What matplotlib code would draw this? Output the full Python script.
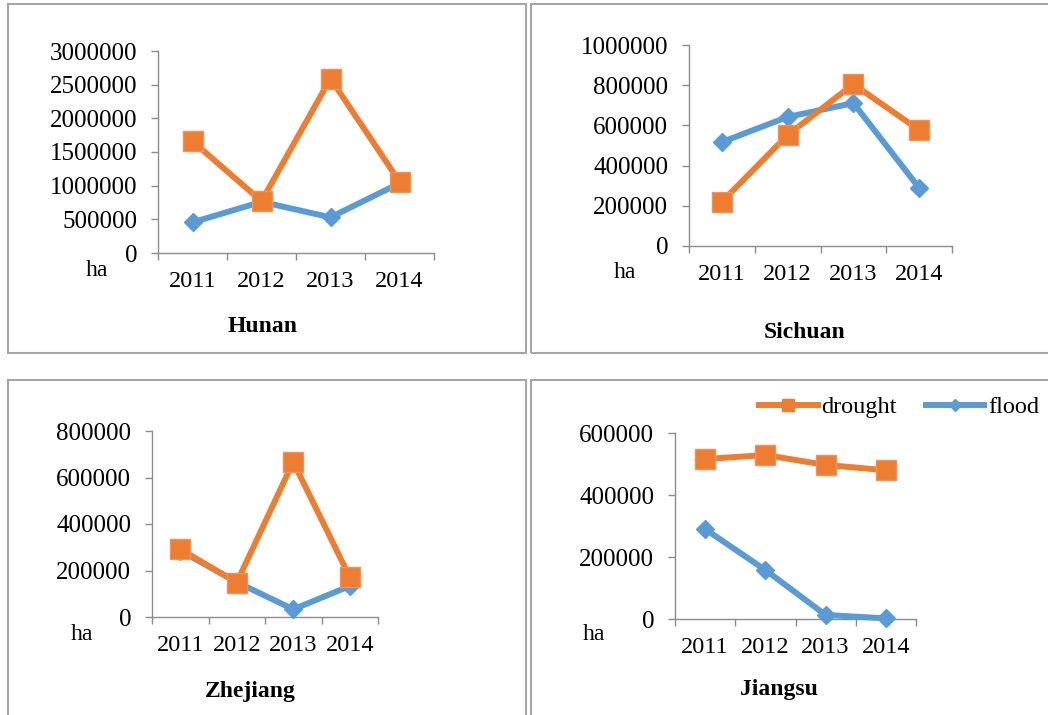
import matplotlib.pyplot as plt
from matplotlib.lines import Line2D
from matplotlib.patches import Rectangle

W, H = 1048, 715

years = ["2011", "2012", "2013", "2014"]

hunan_drought = [1660000, 770000, 2590000, 1060000]
hunan_flood = [455000, 760000, 530000, 1035000]

sichuan_drought = [220000, 552000, 805000, 577000]
sichuan_flood = [517000, 642000, 711000, 289000]

zhejiang_drought = [292000, 148000, 667000, 172000]
zhejiang_flood = [285000, 150000, 33000, 133000]

jiangsu_drought = [516000, 529000, 497000, 480000]
jiangsu_flood = [290000, 158000, 13000, 2000]

ORANGE = "#ED7D31"
BLUE = "#5B9BD5"
AXIS_GRAY = "#8c8c8c"
BOX_GRAY = "#a6a6a6"

plt.rcParams["font.family"] = ["Liberation Serif", "DejaVu Serif"]

fig = plt.figure(figsize=(W / 100, H / 100), dpi=100)


def px_box(x0, y0, x1, y1):
    # pixel box (top-left origin) -> figure fraction rect
    return [x0 / W, 1 - y1 / H, (x1 - x0) / W, (y1 - y0) / H]


def frame(x0, y0, x1, y1):
    r = Rectangle((x0 / W, 1 - y1 / H), (x1 - x0) / W, (y1 - y0) / H,
                  transform=fig.transFigure, fill=False,
                  edgecolor=BOX_GRAY, lw=1.5)
    fig.add_artist(r)


def panel(rect, drought, flood, ymax, step, title, title_xy, ha_xy):
    ax = fig.add_axes(px_box(*rect))
    x = range(len(years))
    ax.plot(x, flood, color=BLUE, lw=4.3, marker="D", ms=9,
            mec=BLUE, mfc=BLUE, clip_on=False, zorder=3)
    ax.plot(x, drought, color=ORANGE, lw=4.3, marker="s", ms=14,
            mec="#f0925a", mew=1, mfc=ORANGE, clip_on=False, zorder=4)
    ax.set_xlim(-0.5, len(years) - 0.5)
    ax.set_ylim(0, ymax)
    ax.set_yticks(range(0, ymax + 1, step))
    ax.set_yticklabels([str(v) for v in range(0, ymax + 1, step)])
    ax.set_xticks([i - 0.5 for i in range(len(years) + 1)])
    ax.set_xticklabels([])
    ax.set_xticks(list(x), minor=True)
    ax.set_xticklabels(years, minor=True)
    ax.tick_params(axis="y", direction="out", length=5, width=1,
                   color=AXIS_GRAY, labelsize=18, pad=10)
    ax.tick_params(axis="x", which="major", direction="out", length=5,
                   width=1, color=AXIS_GRAY)
    ax.tick_params(axis="x", which="minor", length=0, labelsize=17.5, pad=13)
    for s in ("top", "right"):
        ax.spines[s].set_visible(False)
    for s in ("left", "bottom"):
        ax.spines[s].set_color(AXIS_GRAY)
        ax.spines[s].set_linewidth(1)
    ax.patch.set_alpha(0)
    fig.text(title_xy[0] / W, 1 - title_xy[1] / H, title, ha="center",
             va="center", fontsize=17, fontweight="bold")
    fig.text(ha_xy[0] / W, 1 - ha_xy[1] / H, "ha", ha="center",
             va="center", fontsize=17)
    return ax


frame(8, 4, 526, 353)
frame(531, 4, 1050, 353)
frame(8, 380, 526, 720)
frame(531, 380, 1050, 720)

panel((158, 51, 434, 253), hunan_drought, hunan_flood, 3000000, 500000,
      "Hunan", (263, 326), (97, 270))
panel((689, 45, 952, 246), sichuan_drought, sichuan_flood, 1000000, 200000,
      "Sichuan", (805, 332), (625, 272))
panel((152, 431, 378, 617), zhejiang_drought, zhejiang_flood, 800000, 200000,
      "Zhejiang", (250, 691), (82, 634))
panel((675, 433, 916, 619), jiangsu_drought, jiangsu_flood, 600000, 200000,
      "Jiangsu", (779, 690), (594, 634))

handles = [
    Line2D([], [], color=ORANGE, lw=4.3, marker="s", ms=9, mfc=ORANGE,
           mec=ORANGE),
    Line2D([], [], color=BLUE, lw=4.3, marker="D", ms=6, mfc=BLUE, mec=BLUE),
]
fig.legend(handles, ["drought", "flood"], loc="center",
           bbox_to_anchor=(899 / W, 1 - 407 / H), ncol=2, frameon=False,
           fontsize=17.5, handlelength=2.4, handletextpad=0.15,
           columnspacing=1.2, borderpad=0)

fig.savefig("out.png", dpi=100)
